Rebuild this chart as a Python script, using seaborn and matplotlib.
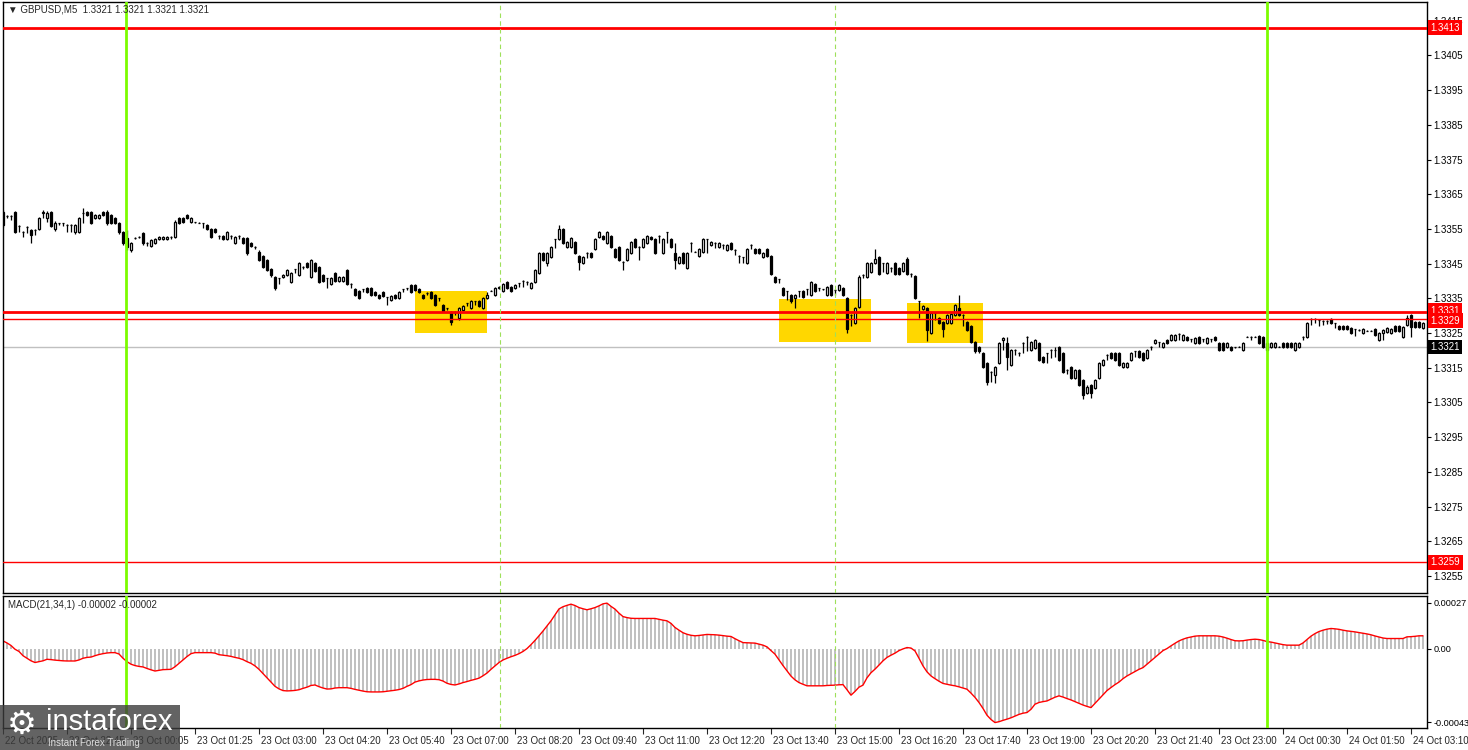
import numpy as np
import pandas as pd
import seaborn as sns
import matplotlib.pyplot as plt
import matplotlib.transforms as mtransforms
from matplotlib.patches import Rectangle

# GBPUSD M5 candles, pips above 1.3300
open_pips = [
    60.0, 58.7, 58.8, 60.0, 55.9, 54.2, 55.7, 54.7, 54.7, 54.9,
    59.5, 58.1, 60.0, 54.9, 56.6, 56.6, 56.1, 56.1, 54.0, 54.2,
    59.5, 60.0, 60.0, 58.1, 58.1, 60.0, 60.0, 59.0, 58.1, 56.8,
    54.2, 52.3, 48.9, 52.3, 52.8, 53.9, 50.9, 50.1, 50.9, 52.0,
    52.0, 52.0, 52.8, 52.8, 58.1, 58.1, 59.0, 57.1, 56.9, 56.8,
    56.6, 56.1, 54.9, 54.9, 53.0, 53.0, 52.0, 53.0, 50.9, 53.0,
    52.3, 52.3, 50.9, 49.9, 48.5, 47.2, 46.1, 43.4, 41.1, 40.8,
    41.1, 41.7, 39.8, 43.4, 41.7, 44.1, 45.3, 41.1, 45.3, 44.0,
    41.7, 40.8, 39.2, 42.4, 40.1, 40.1, 43.2, 39.2, 37.6, 37.2,
    37.6, 37.9, 37.9, 36.9, 36.0, 36.9, 35.3, 34.5, 36.0, 35.0,
    37.6, 37.9, 38.9, 38.9, 37.6, 36.0, 36.6, 36.9, 36.0, 35.0,
    33.1, 32.1, 31.2, 31.2, 29.2, 31.7, 33.6, 32.1, 34.1, 34.1,
    32.1, 35.0, 37.2, 36.0, 37.9, 37.2, 39.8, 38.2, 37.9, 39.3,
    40.1, 39.8, 37.9, 39.8, 42.2, 48.0, 45.1, 47.0, 52.0, 52.0,
    54.9, 49.9, 49.9, 51.1, 47.2, 45.1, 48.2, 48.2, 49.1, 52.8,
    53.0, 50.9, 53.0, 49.1, 49.9, 45.6, 46.1, 48.0, 52.0, 49.9,
    49.9, 50.9, 52.8, 52.0, 53.0, 48.0, 54.0, 52.0, 48.2, 45.1,
    48.0, 43.7, 50.9, 48.5, 47.2, 48.5, 52.0, 50.4, 50.9, 49.9,
    50.4, 49.0, 50.9, 49.0, 47.2, 46.8, 45.1, 50.4, 49.1, 49.1,
    47.0, 49.1, 47.2, 41.1, 40.5, 37.9, 37.0, 36.0, 35.0, 37.0,
    37.0, 37.6, 36.0, 39.1, 37.9, 37.6, 36.0, 38.9, 37.4, 37.4,
    37.9, 35.0, 30.2, 28.0, 32.6, 41.7, 41.1, 42.7, 45.3, 46.8,
    45.1, 42.2, 43.7, 45.3, 43.7, 43.0, 46.3, 42.0, 41.5, 34.1,
    31.9, 32.1, 24.9, 30.7, 29.2, 28.3, 28.0, 28.0, 30.2, 32.1,
    30.2, 28.3, 26.9, 22.5, 21.1, 19.2, 16.3, 13.9, 12.9, 16.3,
    23.0, 22.0, 15.8, 20.1, 19.4, 22.1, 24.0, 20.1, 20.6, 22.1,
    18.2, 19.2, 20.1, 20.1, 21.1, 19.2, 14.4, 15.3, 12.0, 14.4,
    11.5, 7.6, 10.0, 9.1, 12.0, 15.8, 18.7, 19.2, 19.2, 19.2,
    15.3, 15.3, 17.3, 19.7, 19.7, 19.2, 17.7, 21.1, 22.1, 22.3,
    21.1, 23.0, 23.0, 23.0, 24.7, 23.0, 24.0, 23.2, 22.1, 24.0,
    23.2, 22.1, 23.2, 24.0, 22.1, 22.1, 21.1, 21.1, 20.9, 21.1,
    20.1, 24.0, 24.0, 24.0, 24.2, 24.0, 22.1, 20.9, 20.9, 21.1,
    22.1, 22.1, 22.1, 20.1, 20.9, 24.0, 24.0, 29.0, 29.0, 28.8,
    28.6, 28.6, 29.0, 27.8, 27.1, 26.9, 26.9, 26.4, 26.1, 25.9,
    24.9, 25.7, 25.7, 26.1, 23.0, 25.0, 25.3, 24.9, 27.1, 27.1,
    23.9, 27.3, 30.2, 28.2, 28.2, 26.5,
]
close_pips = [
    56.1, 58.7, 58.7, 54.0, 55.9, 54.2, 55.7, 53.3, 54.7, 58.1,
    60.0, 59.5, 55.9, 56.8, 56.6, 56.6, 56.1, 56.1, 56.1, 58.1,
    59.7, 59.0, 56.8, 59.0, 59.0, 59.0, 56.6, 56.6, 56.6, 54.0,
    50.9, 49.9, 50.9, 52.3, 52.8, 50.9, 50.9, 51.8, 52.0, 52.8,
    52.8, 52.8, 52.8, 57.1, 56.8, 57.1, 58.1, 58.1, 56.9, 56.8,
    56.6, 54.9, 52.8, 54.0, 53.0, 52.0, 54.0, 53.0, 52.8, 53.0,
    50.9, 48.0, 50.1, 49.9, 46.1, 44.1, 43.2, 41.7, 37.9, 40.8,
    41.7, 43.2, 42.2, 43.4, 45.1, 44.1, 44.0, 46.1, 43.0, 39.8,
    40.1, 40.8, 40.8, 40.1, 41.1, 41.1, 39.2, 39.2, 36.0, 35.0,
    37.6, 36.9, 36.0, 36.0, 35.0, 35.7, 35.3, 35.7, 35.0, 36.9,
    37.6, 37.9, 36.9, 37.4, 36.9, 35.0, 36.6, 35.0, 33.1, 35.0,
    31.5, 32.1, 28.3, 31.2, 32.1, 32.8, 33.6, 34.1, 34.1, 32.8,
    35.0, 36.0, 37.2, 37.9, 38.2, 39.1, 37.9, 37.0, 38.9, 39.3,
    40.1, 39.8, 39.3, 43.2, 48.0, 46.1, 48.0, 49.9, 52.0, 54.9,
    50.9, 51.1, 52.3, 48.0, 45.6, 47.0, 48.2, 47.0, 52.0, 54.0,
    52.0, 54.2, 49.9, 47.0, 46.1, 45.6, 49.1, 51.1, 49.9, 49.9,
    52.0, 53.0, 52.0, 48.2, 53.0, 52.0, 54.0, 49.9, 46.1, 47.0,
    45.1, 48.2, 50.9, 48.5, 49.1, 52.0, 52.0, 51.1, 50.9, 50.9,
    50.4, 50.4, 49.1, 49.0, 47.2, 46.8, 49.1, 50.4, 48.0, 48.0,
    48.0, 47.2, 42.0, 39.8, 40.5, 36.0, 37.0, 34.1, 36.0, 37.0,
    35.5, 37.6, 39.8, 37.0, 37.9, 37.6, 38.2, 36.0, 37.4, 38.9,
    36.0, 26.1, 30.2, 32.1, 41.3, 41.7, 45.1, 45.3, 46.3, 42.0,
    45.1, 45.1, 43.7, 42.0, 42.0, 45.3, 42.0, 42.0, 35.0, 34.1,
    32.8, 25.9, 30.9, 30.7, 28.0, 26.1, 30.2, 30.5, 33.1, 30.2,
    30.2, 25.9, 22.5, 19.7, 19.7, 15.3, 11.0, 13.9, 15.3, 22.0,
    23.5, 18.2, 20.1, 20.1, 19.4, 22.1, 24.0, 22.3, 23.0, 17.3,
    16.8, 19.2, 20.1, 20.1, 17.3, 13.9, 14.4, 12.0, 14.4, 10.0,
    7.2, 9.6, 7.6, 11.5, 16.3, 17.3, 18.7, 17.7, 17.3, 15.8,
    16.3, 16.3, 19.2, 19.7, 18.0, 17.3, 20.1, 21.1, 23.0, 22.3,
    22.1, 22.1, 24.4, 24.4, 24.7, 24.4, 23.0, 23.2, 23.5, 22.1,
    23.2, 23.5, 23.2, 23.0, 20.1, 20.1, 22.1, 20.1, 20.9, 21.1,
    22.1, 24.0, 24.0, 24.0, 22.1, 20.9, 20.1, 22.1, 22.1, 21.1,
    20.9, 20.9, 20.9, 22.1, 22.1, 24.0, 28.0, 29.0, 29.0, 28.8,
    28.6, 28.6, 27.8, 27.8, 26.1, 26.1, 26.1, 24.9, 26.1, 25.9,
    26.1, 25.7, 25.7, 24.5, 25.1, 25.9, 26.5, 26.1, 25.6, 25.6,
    26.8, 29.4, 26.8, 26.8, 26.8, 27.9,
]
high_pips = [
    60.5, 58.9, 59.0, 60.2, 56.1, 54.4, 55.9, 55.0, 54.9, 58.5,
    60.6, 60.3, 60.3, 57.2, 56.8, 56.8, 56.3, 56.3, 56.5, 58.5,
    61.0, 60.3, 60.3, 59.3, 59.3, 60.3, 60.4, 59.3, 58.4, 57.1,
    54.5, 54.7, 51.2, 52.6, 53.1, 54.2, 51.1, 52.1, 52.3, 53.1,
    53.1, 53.1, 53.0, 57.5, 58.4, 58.4, 59.3, 58.4, 57.1, 57.0,
    56.8, 56.4, 55.2, 55.2, 53.2, 53.3, 54.3, 53.2, 53.1, 53.2,
    52.6, 52.6, 51.2, 50.1, 48.8, 47.5, 46.4, 43.7, 41.4, 41.0,
    42.0, 43.5, 42.5, 43.6, 45.4, 44.3, 45.6, 46.4, 45.6, 44.3,
    42.0, 41.0, 41.1, 42.7, 41.4, 41.4, 43.5, 39.4, 37.9, 37.5,
    37.8, 38.2, 38.2, 37.2, 36.3, 37.2, 35.5, 36.0, 36.3, 37.2,
    37.8, 38.1, 39.2, 39.2, 37.9, 36.3, 36.8, 37.2, 36.3, 35.2,
    33.4, 32.3, 31.5, 31.4, 32.4, 33.1, 33.8, 34.4, 34.3, 34.4,
    35.3, 36.9, 37.4, 38.2, 38.5, 39.4, 40.1, 38.5, 39.2, 39.5,
    40.3, 40.0, 39.6, 43.5, 48.3, 48.3, 48.3, 50.2, 52.2, 56.2,
    55.2, 51.4, 52.6, 51.4, 47.5, 47.3, 48.4, 48.5, 52.3, 54.3,
    53.3, 54.5, 53.3, 49.4, 50.2, 45.8, 49.4, 51.4, 52.3, 50.1,
    52.3, 53.3, 53.1, 52.3, 53.2, 52.3, 54.2, 52.3, 50.9, 47.3,
    48.3, 48.5, 51.1, 48.7, 49.4, 52.3, 52.2, 51.4, 51.1, 51.2,
    50.6, 50.7, 51.2, 49.2, 47.4, 47.0, 49.4, 50.6, 49.4, 49.4,
    48.3, 49.4, 47.5, 41.4, 40.7, 38.2, 37.2, 36.3, 36.3, 37.2,
    37.3, 37.8, 40.1, 39.4, 38.1, 37.8, 38.5, 39.2, 37.6, 39.2,
    38.2, 35.3, 30.4, 32.4, 41.6, 41.9, 45.4, 45.6, 49.1, 47.1,
    45.3, 45.4, 43.9, 45.6, 44.0, 45.6, 47.0, 42.2, 41.8, 34.3,
    33.1, 32.4, 31.2, 30.9, 29.5, 28.6, 30.5, 30.8, 33.4, 36.0,
    30.4, 28.6, 27.2, 22.8, 21.4, 19.5, 16.6, 14.1, 15.6, 22.3,
    24.0, 24.0, 20.4, 20.3, 19.6, 22.3, 24.2, 22.6, 23.3, 22.4,
    18.5, 19.4, 20.3, 21.1, 21.4, 19.5, 14.6, 15.6, 14.7, 14.7,
    11.8, 9.9, 10.3, 11.8, 16.6, 17.6, 18.9, 19.5, 19.5, 19.5,
    16.6, 16.6, 19.5, 19.9, 20.0, 19.5, 20.4, 21.3, 23.3, 22.5,
    22.4, 23.3, 24.7, 24.7, 24.9, 24.7, 24.3, 23.4, 23.8, 24.3,
    23.4, 23.8, 23.4, 24.3, 22.4, 22.4, 22.4, 21.4, 21.1, 21.3,
    22.4, 24.2, 24.2, 24.2, 24.5, 24.3, 22.4, 22.4, 22.4, 21.3,
    22.4, 22.4, 22.4, 22.4, 22.4, 24.2, 28.3, 29.2, 29.2, 29.0,
    28.8, 28.8, 29.3, 28.0, 27.4, 27.2, 27.2, 26.7, 26.3, 26.1,
    26.4, 25.9, 25.9, 26.4, 25.4, 26.2, 26.8, 26.4, 27.4, 27.4,
    27.1, 30.2, 30.5, 28.5, 28.5, 28.2,
]
low_pips = [
    55.5, 58.1, 57.6, 53.8, 54.2, 52.8, 53.8, 50.9, 53.3, 54.6,
    58.1, 57.1, 55.5, 54.5, 56.1, 55.9, 54.2, 54.0, 53.6, 53.9,
    56.8, 58.7, 56.5, 57.8, 57.8, 58.7, 56.2, 56.3, 56.3, 53.6,
    50.4, 48.9, 48.4, 52.0, 52.5, 50.5, 50.1, 49.8, 50.6, 51.7,
    51.7, 51.7, 52.0, 52.5, 56.5, 56.8, 57.8, 56.8, 56.7, 56.6,
    55.2, 54.6, 52.5, 53.7, 52.0, 51.7, 51.7, 52.0, 50.6, 52.0,
    50.6, 47.6, 49.8, 49.1, 45.8, 43.8, 42.8, 41.3, 37.4, 39.2,
    40.8, 41.4, 39.5, 42.4, 41.4, 43.4, 43.7, 40.8, 42.7, 39.4,
    39.8, 37.9, 38.9, 39.8, 39.8, 39.8, 38.9, 37.9, 35.7, 34.7,
    36.9, 36.6, 35.7, 35.7, 34.7, 35.4, 33.1, 34.2, 34.7, 34.7,
    36.9, 37.4, 36.6, 37.1, 36.6, 34.7, 36.0, 34.7, 32.8, 34.1,
    31.2, 31.7, 27.3, 30.2, 28.9, 31.4, 32.8, 31.8, 33.1, 32.5,
    31.8, 34.7, 37.0, 35.7, 37.6, 36.9, 37.6, 36.7, 37.6, 38.2,
    38.4, 38.9, 37.6, 39.5, 41.9, 45.8, 44.2, 46.7, 49.4, 51.7,
    50.6, 49.6, 49.6, 47.7, 43.2, 44.8, 46.5, 46.7, 48.8, 52.5,
    51.7, 50.6, 49.6, 46.7, 45.8, 43.2, 45.8, 47.7, 49.6, 46.1,
    49.6, 50.6, 51.7, 47.9, 50.9, 47.7, 50.9, 49.6, 43.4, 44.8,
    44.8, 43.4, 48.5, 48.3, 46.9, 48.2, 48.0, 50.1, 49.4, 49.6,
    49.1, 48.7, 48.8, 47.5, 45.1, 45.1, 44.8, 49.1, 47.7, 47.7,
    46.7, 46.9, 41.7, 39.5, 39.3, 35.7, 34.5, 33.8, 32.1, 35.5,
    35.2, 36.0, 35.7, 36.7, 37.0, 37.4, 35.7, 35.7, 36.0, 37.1,
    35.7, 24.9, 26.9, 27.7, 32.3, 40.8, 40.8, 42.4, 45.0, 41.7,
    42.7, 41.9, 42.7, 41.7, 41.7, 42.7, 41.7, 41.1, 34.7, 29.3,
    31.6, 22.8, 24.6, 28.8, 27.7, 24.0, 27.7, 27.7, 29.9, 29.9,
    27.0, 25.6, 22.2, 19.4, 19.4, 15.0, 10.0, 11.0, 10.5, 16.0,
    20.1, 14.4, 15.5, 18.7, 18.5, 19.2, 19.7, 19.8, 20.3, 17.0,
    16.5, 16.3, 17.7, 18.2, 17.0, 13.6, 13.2, 11.7, 11.7, 9.7,
    6.0, 7.3, 6.3, 8.8, 11.7, 15.5, 17.3, 17.4, 17.0, 15.5,
    15.0, 15.0, 17.0, 18.2, 17.7, 17.0, 17.4, 20.1, 21.8, 21.1,
    20.8, 21.8, 22.7, 22.7, 23.0, 22.7, 22.7, 22.3, 21.8, 21.8,
    22.3, 21.8, 22.3, 22.7, 19.8, 19.8, 20.8, 19.8, 20.7, 20.9,
    19.8, 23.8, 23.0, 23.8, 21.8, 20.6, 19.8, 20.6, 20.6, 20.9,
    20.6, 20.6, 20.6, 19.8, 20.6, 23.0, 23.7, 27.3, 28.0, 26.9,
    27.3, 27.6, 27.5, 26.4, 25.8, 25.8, 25.8, 24.6, 24.2, 25.7,
    24.6, 25.5, 25.5, 24.2, 22.7, 23.0, 25.0, 24.6, 25.3, 25.3,
    23.6, 27.0, 24.0, 26.5, 26.5, 26.2,
]

# MACD(21,34,1) per bar, in units of 0.00001
macd_vals = [
    4.7, 3.5, 2.0, -0.2, -1.5, -4.0, -5.5, -7.0, -8.0, -7.5,
    -7.0, -6.1, -6.3, -6.6, -6.8, -7.0, -7.1, -7.1, -7.1, -6.5,
    -5.5, -5.0, -4.8, -4.0, -3.3, -2.8, -2.4, -2.2, -2.2, -3.0,
    -5.5, -7.5, -9.0, -9.8, -10.3, -10.6, -11.5, -12.3, -13.0, -12.6,
    -12.2, -12.1, -12.0, -10.5, -8.5, -6.5, -4.5, -2.8, -2.2, -2.2,
    -2.2, -2.2, -2.2, -2.5, -3.4, -3.7, -4.0, -4.4, -5.0, -5.5,
    -6.3, -7.5, -8.5, -10.0, -12.0, -14.5, -17.0, -19.5, -22.0, -23.5,
    -24.5, -24.7, -24.6, -24.4, -24.0, -23.2, -22.5, -21.5, -21.2, -22.2,
    -23.0, -23.6, -23.5, -23.0, -22.8, -22.8, -22.8, -23.2, -23.8, -24.3,
    -24.8, -25.2, -25.3, -25.3, -25.3, -25.2, -24.9, -24.6, -24.3, -23.9,
    -23.2, -22.0, -21.0, -19.5, -18.8, -18.3, -18.0, -17.9, -17.9, -18.1,
    -18.9, -20.2, -20.9, -21.2, -20.6, -19.8, -19.2, -18.5, -17.9, -17.2,
    -15.8, -14.2, -12.0, -10.0, -8.0, -6.5, -5.5, -4.6, -3.8, -2.8,
    -1.5, 0.2, 2.5, 5.0, 7.7, 10.5, 13.5, 16.5, 20.0, 23.5,
    24.8, 25.6, 26.3, 25.5, 24.3, 23.6, 23.0, 23.6, 24.3, 25.3,
    26.5, 26.9, 25.0, 23.4, 21.0, 19.0, 18.4, 18.0, 17.9, 17.9,
    17.9, 17.9, 17.9, 17.9, 17.4, 16.9, 16.5, 15.0, 12.6, 11.0,
    9.5, 8.6, 8.0, 7.7, 7.9, 8.2, 8.5, 8.4, 8.3, 8.1,
    7.8, 7.5, 7.3, 6.0, 4.8, 3.7, 3.6, 3.5, 3.4, 2.8,
    2.2, 1.2, -1.0, -3.1, -6.5, -9.8, -12.9, -16.0, -18.2, -19.8,
    -20.8, -21.7, -21.7, -21.7, -21.7, -21.7, -21.5, -21.4, -21.3, -21.1,
    -21.0, -24.0, -27.2, -25.0, -22.5, -21.3, -17.0, -14.0, -11.9, -9.5,
    -7.0, -5.0, -3.7, -2.5, -1.0, 0.0, 0.8, 0.5, -1.2, -5.5,
    -10.0, -13.5, -15.9, -17.5, -19.0, -20.3, -20.8, -21.3, -21.7, -22.3,
    -23.0, -23.7, -26.0, -28.5, -31.5, -35.0, -39.0, -41.5, -43.3, -42.8,
    -42.0, -41.3, -40.5, -39.5, -38.5, -37.8, -37.4, -35.5, -32.5, -31.5,
    -31.0, -30.6, -29.5, -28.4, -27.6, -28.3, -29.2, -30.0, -31.0, -32.0,
    -33.0, -33.8, -34.5, -32.0, -29.5, -27.0, -24.5, -22.7, -21.0, -19.5,
    -17.5, -15.9, -14.6, -13.3, -12.0, -11.0, -9.0, -7.0, -5.0, -3.0,
    -1.0, 0.2, 1.8, 3.3, 4.7, 5.7, 6.5, 7.0, 7.5, 7.7,
    7.7, 7.7, 7.7, 7.7, 7.5, 7.0, 6.3, 5.5, 4.8, 4.7,
    4.8, 5.2, 5.5, 5.7, 5.5, 5.0, 4.3, 4.0, 3.5, 3.0,
    2.5, 2.2, 2.2, 2.2, 2.2, 3.5, 5.5, 7.5, 9.0, 10.2,
    11.0, 11.6, 12.0, 11.8, 11.5, 11.0, 10.6, 10.3, 10.0, 9.6,
    9.2, 8.8, 8.3, 7.6, 7.0, 6.4, 6.1, 6.1, 6.1, 6.1,
    6.1, 7.1, 7.2, 7.4, 7.7, 7.7,
]

tick_bars = list(range(0, 353, 16))
tick_labels = ['22 Oct 2025', '22 Oct 22:45', '23 Oct 00:05', '23 Oct 01:25',
               '23 Oct 03:00', '23 Oct 04:20', '23 Oct 05:40', '23 Oct 07:00',
               '23 Oct 08:20', '23 Oct 09:40', '23 Oct 11:00', '23 Oct 12:20',
               '23 Oct 13:40', '23 Oct 15:00', '23 Oct 16:20', '23 Oct 17:40',
               '23 Oct 19:00', '23 Oct 20:20', '23 Oct 21:40', '23 Oct 23:00',
               '24 Oct 00:30', '24 Oct 01:50', '24 Oct 03:10']

# horizontal levels (price, width)
levels = [1.3413, 1.3331, 1.3329, 1.3259]
level_widths = [2, 2, 1, 1]
bid_price = 1.3321

# yellow zones: bar span and price span
zone_left = [103, 194, 226]
zone_right = [121, 217, 245]
zone_low = [1.33250, 1.33224, 1.33222]
zone_high = [1.33371, 1.33348, 1.33337]

green_bars = [30.75, 316]
separator_bars = [124.25, 208]

df = pd.DataFrame({
    'bar': np.arange(len(close_pips)),
    'open': 1.33 + np.array(open_pips) / 10000,
    'high': 1.33 + np.array(high_pips) / 10000,
    'low': 1.33 + np.array(low_pips) / 10000,
    'close': 1.33 + np.array(close_pips) / 10000,
    'macd': np.array(macd_vals) / 100000,
})

sns.set_style('white')
plt.rcParams['font.family'] = ['Liberation Sans', 'DejaVu Sans']
FS = 7

W, H = 1468, 750
fig = plt.figure(figsize=(W / 100, H / 100), dpi=100)


def px_axes(l, t, r, b):
    return fig.add_axes([l / W, 1 - b / H, (r - l) / W, (b - t) / H])


ax = px_axes(3, 2, 1427, 593)
ax2 = px_axes(3, 596, 1427, 728)

# --- price panel ---
for l, r, lo, hi in zip(zone_left, zone_right, zone_low, zone_high):
    ax.add_patch(Rectangle((l, lo), r - l, hi - lo, color='#ffd700', lw=0, zorder=1))

ax.axhline(bid_price, color='#c0c0c0', lw=1, zorder=2)

ax.vlines(df['bar'], df['low'], df['high'], color='black', lw=0.9, zorder=3)
up = df['close'] >= df['open']
ax.bar(df['bar'], (df['close'] - df['open']).abs(),
       bottom=np.minimum(df['open'], df['close']), width=0.68,
       color=np.where(up, 'white', 'black'), edgecolor='black', linewidth=0.9, zorder=4)

for lv, lw in zip(levels, level_widths):
    ax.axhline(lv, color='red', lw=lw, zorder=5)

# --- MACD panel ---
sns.barplot(x=df['bar'], y=df['macd'], native_scale=True, color='#c0c0c0',
            saturation=1, width=0.5, errorbar=None, linewidth=0, ax=ax2)
sns.lineplot(x=df['bar'], y=df['macd'], color='red', lw=1, ax=ax2)

for a in (ax, ax2):
    for gb in green_bars:
        a.axvline(gb, color='#7cfc00', lw=2, zorder=6)
    for sb in separator_bars:
        a.axvline(sb, color='#9ee05a', lw=0.8, ls=(0, (4, 3)), zorder=6)
    a.set_xlim(0, 356)
    a.set_xlabel('')
    a.set_ylabel('')
    a.yaxis.tick_right()
    a.tick_params(axis='y', direction='out', length=3, pad=1.5, labelsize=FS,
                  colors='black', width=0.8, left=False, right=True)
    for s in a.spines.values():
        s.set_color('black')
        s.set_linewidth(1)

ax.set_ylim(1.32501, 1.34204)
price_ticks = np.round(np.arange(1.3255, 1.34151, 0.001), 4)
ax.set_yticks(price_ticks)
ax.set_yticklabels([f'{t:.4f}' for t in price_ticks])
ax.set_xticks([])

ax2.set_ylim(-46.5e-5, 31.1e-5)
ax2.set_yticks([27e-5, 0, -43e-5])
ax2.set_yticklabels(['0.00027', '0.00', '-0.00043'], fontsize=6.6)
ax2.set_xticks(tick_bars)
ax2.set_xticklabels(tick_labels, ha='left', fontsize=FS)
ax2.tick_params(axis='x', direction='out', length=4, pad=2, width=0.8, bottom=True)
shift = mtransforms.ScaledTranslation(2 / 100, 0, fig.dpi_scale_trans)
for lbl in ax2.get_xticklabels():
    lbl.set_transform(lbl.get_transform() + shift)

# right-side price tags
ytr = ax.get_yaxis_transform()


def tag(y, text, fc):
    ax.text(1.0025, y, text, transform=ytr, ha='left', va='center', color='white',
            fontsize=FS, clip_on=False, zorder=10,
            bbox=dict(boxstyle='square,pad=0.25', fc=fc, ec='none'))


tag(1.3413, '1.3413', 'red')
tag(1.33315, '1.3331', 'red')
tag(1.33285, '1.3329', 'red')
tag(1.3259, '1.3259', 'red')
tag(bid_price, '1.3321', 'black')

# header texts
fig.text(8 / W, 1 - 10 / H, '\u25bc GBPUSD,M5  1.3321 1.3321 1.3321 1.3321',
         fontsize=FS, va='center', ha='left')
fig.text(8 / W, 1 - 605 / H, 'MACD(21,34,1) -0.00002 -0.00002',
         fontsize=FS, va='center', ha='left')

# watermark
fig.patches.append(Rectangle((0, 0), 180 / W, 45 / H, transform=fig.transFigure,
                             fc='#3c3c3c', alpha=0.8, ec='none', zorder=20))
fig.text(22 / W, 1 - 724 / H, '\u2699', color='white', fontsize=24,
         ha='center', va='center', zorder=21, family='DejaVu Sans')
fig.text(46 / W, 1 - 722 / H, 'instaforex', color='white', fontsize=21,
         ha='left', va='center', zorder=21)
fig.text(48 / W, 1 - 743 / H, 'Instant Forex Trading', color='#dddddd', fontsize=7,
         ha='left', va='center', zorder=21)

fig.savefig('out.png', dpi=100, facecolor='white')
